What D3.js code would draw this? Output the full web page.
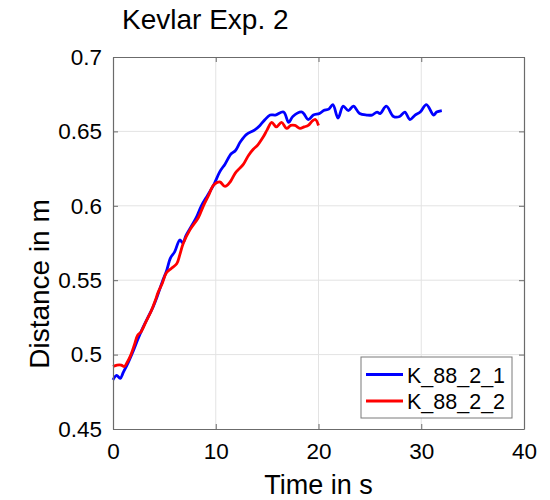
<!DOCTYPE html>
<html>
<head>
<meta charset="utf-8">
<script src="https://cdn.jsdelivr.net/npm/d3@7"></script>
<style>
  body { margin: 0; background: #fff; }
  text { font-family: "Liberation Sans", Arial, Helvetica, sans-serif; fill: #000; }
</style>
</head>
<body>
<div id="chart"></div>
<script>
// values
const seriesNames = ["K_88_2_1", "K_88_2_2"]
const seriesColors = ["#0000ff", "#ff0000"]

const timeA = [0, 0.35, 0.7, 1.0, 1.5, 2.0, 2.4, 2.9, 3.4, 3.9, 4.3, 4.8, 5.2, 5.6, 6.0, 6.5, 6.8, 7.1, 7.6, 8.1,
  8.6, 9.2, 9.8, 10.4, 10.9, 11.5, 11.9, 12.4, 13.0, 13.8, 14.3, 14.8, 15.3, 15.8, 16.6, 17.1, 17.5, 18.4, 19.0, 19.5,
  20.1, 20.5, 21.0, 21.4, 21.9, 22.4, 22.9, 23.4, 24.0, 24.7, 25.2, 25.7, 26.0, 26.6, 27.3, 27.9, 28.4, 28.9, 29.4, 29.9,
  30.5, 31.2, 31.5, 32.0]
const distA = [0.483, 0.486, 0.484, 0.488, 0.495, 0.503, 0.510, 0.518, 0.525, 0.532, 0.539, 0.549, 0.556, 0.565, 0.569, 0.577, 0.575, 0.580, 0.586, 0.592,
  0.600, 0.607, 0.614, 0.623, 0.628, 0.635, 0.637, 0.643, 0.648, 0.651, 0.654, 0.658, 0.661, 0.661, 0.663, 0.656, 0.660, 0.663, 0.658, 0.661,
  0.662, 0.664, 0.665, 0.668, 0.659, 0.667, 0.664, 0.667, 0.662, 0.661, 0.661, 0.663, 0.662, 0.667, 0.660, 0.660, 0.663, 0.658, 0.661, 0.663,
  0.668, 0.661, 0.663, 0.664]

const timeB = [0, 0.4, 0.8, 1.1, 1.4, 1.75, 2.1, 2.4, 2.7, 3.2, 3.7, 4.1, 4.4, 4.8, 5.2, 5.7, 6.2, 6.5, 6.85, 7.5,
  8.3, 8.8, 9.3, 9.8, 10.4, 10.9, 11.4, 11.9, 12.3, 12.7, 13.2, 13.65, 14.1, 14.6, 15.0, 15.45, 15.9, 16.4, 16.9, 17.3,
  17.7, 18.2, 18.6, 19.0, 19.4, 19.7, 20.0]
const distB = [0.492, 0.493, 0.493, 0.492, 0.495, 0.500, 0.507, 0.513, 0.515, 0.522, 0.529, 0.536, 0.542, 0.548, 0.555, 0.558, 0.561, 0.567, 0.575, 0.584,
  0.592, 0.600, 0.607, 0.614, 0.616, 0.613, 0.616, 0.622, 0.625, 0.628, 0.634, 0.638, 0.641, 0.646, 0.651, 0.656, 0.653, 0.656, 0.652, 0.654,
  0.654, 0.652, 0.653, 0.654, 0.657, 0.658, 0.654]

const xTicks = [0, 10, 20, 30, 40]
const yTicks = [0.45, 0.5, 0.55, 0.6, 0.65, 0.7]
const yTickLabels = ["0.45", "0.5", "0.55", "0.6", "0.65", "0.7"]

let margin = {top: 57, right: 26, bottom: 71, left: 113},
    width = 550 - margin.left - margin.right,
    height = 500 - margin.top - margin.bottom

let svg = d3.select("#chart").append("svg")
    .attr("width", 550)
    .attr("height", 500)

let g = svg.append("g")
    .attr("transform", "translate(" + margin.left + "," + margin.top + ")")

let x = d3.scaleLinear().domain([0, 40]).range([0, width])
let y = d3.scaleLinear().domain([0.45, 0.7]).range([height, 0])

// grid
g.append("g").selectAll("line.gx")
  .data(xTicks.slice(1, -1)).enter().append("line")
    .attr("x1", d => x(d)).attr("x2", d => x(d))
    .attr("y1", 0).attr("y2", height)
    .attr("stroke", "#e3e3e3").attr("stroke-width", 1)
g.append("g").selectAll("line.gy")
  .data(yTicks.slice(1, -1)).enter().append("line")
    .attr("x1", 0).attr("x2", width)
    .attr("y1", d => y(d)).attr("y2", d => y(d))
    .attr("stroke", "#e3e3e3").attr("stroke-width", 1)

// data lines
let series = [
  {name: seriesNames[0], color: seriesColors[0], pts: timeA.map((t, i) => [t, distA[i]])},
  {name: seriesNames[1], color: seriesColors[1], pts: timeB.map((t, i) => [t, distB[i]])}
]
let line = d3.line().x(d => x(d[0])).y(d => y(d[1])).curve(d3.curveCatmullRom)

g.selectAll("path.series")
  .data(series).enter().append("path")
    .attr("d", d => line(d.pts))
    .attr("fill", "none")
    .attr("stroke", d => d.color)
    .attr("stroke-width", 2.8)
    .attr("stroke-linejoin", "round")

// axes, ticks inside on all four sides
let xAxis = g.append("g").attr("transform", "translate(0," + height + ")")
    .call(d3.axisBottom(x).tickValues(xTicks).tickSizeInner(-5).tickSizeOuter(0).tickPadding(14))
let xTop = g.append("g")
    .call(d3.axisTop(x).tickValues(xTicks).tickSizeInner(-5).tickSizeOuter(0).tickFormat(""))
let yAxis = g.append("g")
    .call(d3.axisLeft(y).tickValues(yTicks).tickSizeInner(-5).tickSizeOuter(0).tickPadding(11)
      .tickFormat((d, i) => yTickLabels[i]))
let yRight = g.append("g").attr("transform", "translate(" + width + ",0)")
    .call(d3.axisRight(y).tickValues(yTicks).tickSizeInner(-5).tickSizeOuter(0).tickFormat(""))

;[xAxis, xTop, yAxis, yRight].forEach(a => {
  a.select(".domain").attr("stroke", "#6b6b6b").attr("stroke-width", 1.2)
  a.selectAll(".tick line").attr("stroke", "#6b6b6b")
  a.selectAll("text").attr("font-size", 22.5).attr("fill", "#1a1a1a")
    .attr("font-family", "Liberation Sans, Arial, sans-serif")
})

// labels
svg.append("text")
  .attr("x", margin.left + width / 2)
  .attr("y", 494)
  .attr("text-anchor", "middle")
  .attr("font-size", 27)
  .text("Time in s")

svg.append("text")
  .attr("transform", "translate(49,284) rotate(-90)")
  .attr("text-anchor", "middle")
  .attr("font-size", 28)
  .text("Distance in m")

svg.append("text")
  .attr("x", 122)
  .attr("y", 29)
  .attr("font-size", 28)
  .text("Kevlar Exp. 2")

// legend
let legend = svg.append("g").attr("transform", "translate(361,357)")
legend.append("rect")
  .attr("width", 151).attr("height", 61)
  .attr("fill", "#fff").attr("stroke", "#7a7a7a").attr("stroke-width", 1)

let items = legend.selectAll("g.item")
  .data(series).enter().append("g")
    .attr("transform", (d, i) => "translate(0," + (17.5 + i * 26.5) + ")")
items.append("line")
  .attr("x1", 5).attr("x2", 42)
  .attr("stroke", d => d.color).attr("stroke-width", 2.8)
items.append("text")
  .attr("x", 46).attr("y", 8)
  .attr("font-size", 21.5)
  .text(d => d.name)
</script>
</body>
</html>
